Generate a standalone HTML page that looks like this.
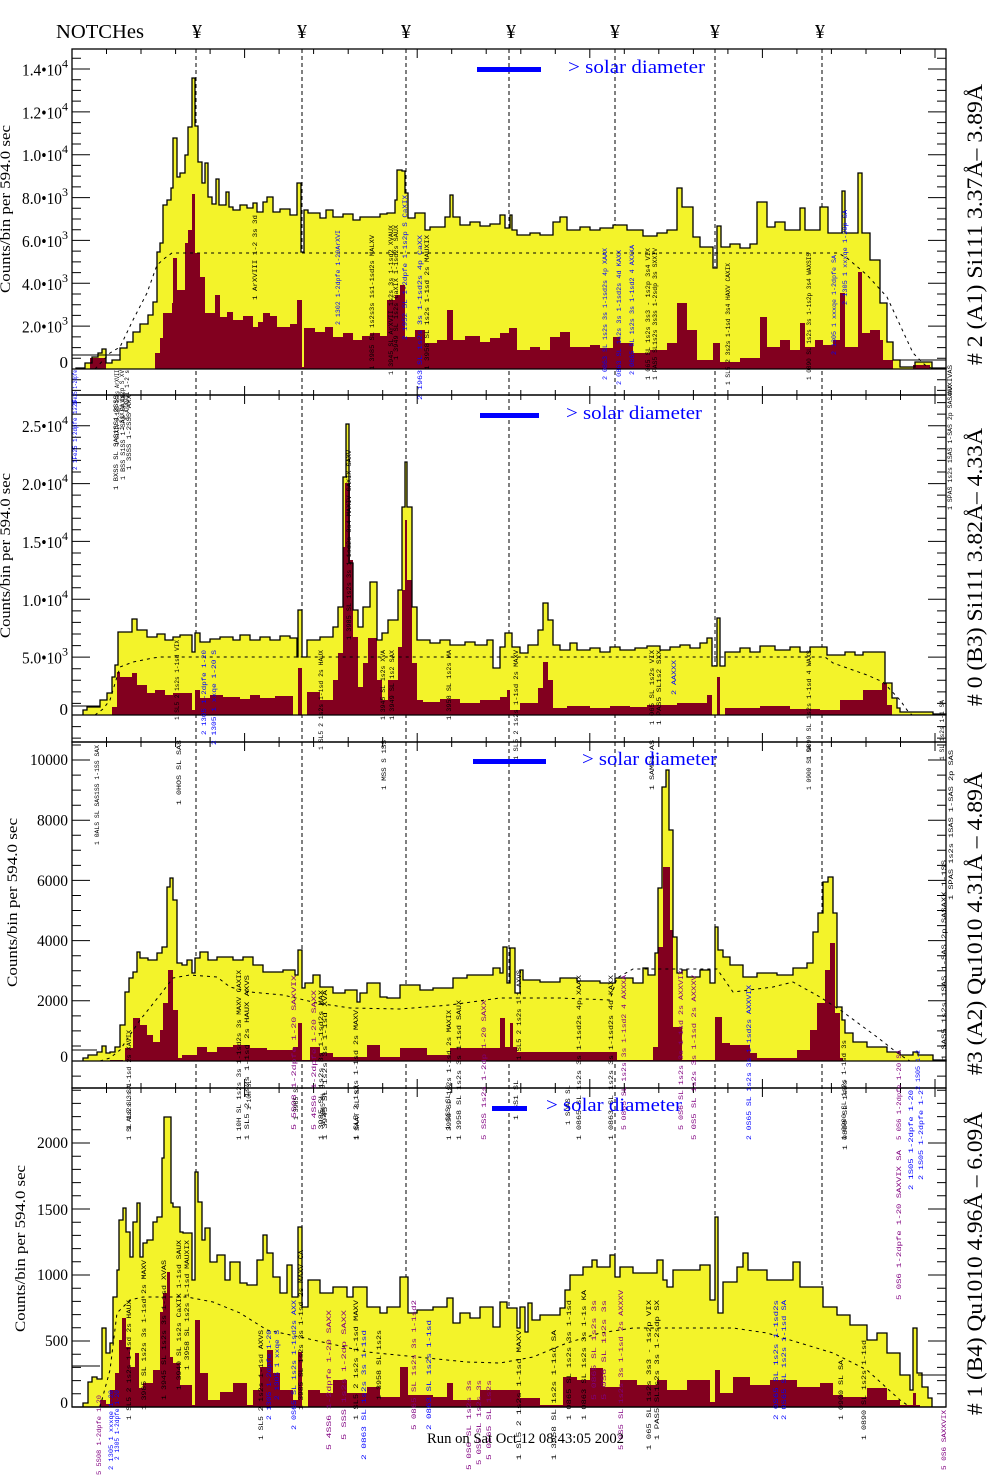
<!DOCTYPE html>
<html><head><meta charset="utf-8"><style>
html,body{margin:0;padding:0;background:#fff}
svg{display:block}
.l{font-family:"Liberation Mono",monospace;font-size:6px}
.k{fill:#000}.b{fill:#0000ff}.p{fill:#800080}
.sv{font-family:"Liberation Serif",serif}
</style></head><body>
<svg width="1004" height="1476" viewBox="0 0 1004 1476" xmlns="http://www.w3.org/2000/svg">
<rect width="1004" height="1476" fill="#fff"/>
<defs>
<path id="h1" d="M72,369 H76 V368 H85 V363 H92 V357 H98 V353 H102 V349 H106 V363 H112 V360 H120 V348 H127 V342 H133 V332 H140 V324 H148 V315 H153 V302 H157 V252 H160 V243 H163 V205 H167 V200 H171 V188 H173 V138 H177 V177 H180 V173 H185 V155 H188 V127 H192 V78 H195 V126 H198 V162 H202 V183 H205 V163 H208 V197 H212 V204 H216 V179 H219 V205 H226 V192 H229 V207 H233 V210 H240 V205 H247 V208 H253 V203 H257 V212 H263 V202 H267 V197 H273 V212 H280 V209 H290 V215 H297 V183 H301 V252 H304 V210 H308 V213 H320 V218 H326 V210 H333 V217 H343 V214 H353 V220 H360 V217 H370 V217 H380 V214 H387 V213 H395 V200 H397 V170 H402 V171 H405 V193 H408 V218 H415 V213 H425 V230 H430 V227 H445 V217 H450 V195 H453 V217 H460 V225 H470 V222 H480 V226 H490 V224 H500 V215 H505 V228 H510 V215 H512 V230 H517 V235 H530 V233 H540 V235 H553 V222 H560 V217 H567 V230 H580 V227 H590 V230 H600 V228 H613 V225 H627 V230 H643 V236 H657 V233 H667 V230 H677 V188 H682 V207 H693 V237 H700 V247 H713 V268 H717 V226 H721 V247 H730 V244 H740 V248 H750 V244 H757 V202 H767 V227 H775 V222 H785 V230 H800 V208 H805 V230 H820 V207 H828 V233 H842 V191 H845 V233 H858 V173 H862 V233 H870 V260 H880 V303 H887 V342 H893 V360 H900 V367 H915 V362 H932 V368 H946 V369 Z"/>
<path id="h2" d="M72,715 H83 V710 H87 V707 H100 V700 H107 V693 H112 V677 H115 V665 H118 V632 H132 V619 H137 V630 H147 V637 H157 V634 H165 V640 H173 V637 H180 V635 H192 V652 H195 V633 H200 V642 H210 V639 H220 V637 H233 V640 H240 V635 H250 V640 H260 V637 H270 V640 H280 V636 H290 V638 H297 V657 H298 V610 H302 V657 H307 V640 H320 V637 H333 V627 H338 V607 H343 V477 H346 V424 H349 V563 H353 V610 H358 V627 H363 V607 H370 V582 H377 V640 H382 V633 H388 V620 H398 V590 H402 V507 H405 V462 H407 V507 H412 V607 H417 V640 H430 V643 H440 V640 H450 V645 H465 V642 H475 V645 H487 V640 H493 V668 H500 V647 H505 V633 H512 V647 H520 V653 H528 V645 H538 V630 H543 V603 H548 V620 H553 V645 H560 V650 H570 V643 H577 V650 H590 V648 H600 V652 H610 V647 H620 V650 H635 V648 H647 V646 H660 V650 H670 V647 H680 V645 H690 V648 H700 V643 H707 V638 H712 V666 H717 V618 H720 V666 H725 V652 H740 V648 H750 V652 H760 V646 H775 V650 H790 V647 H800 V652 H810 V647 H820 V647 H827 V655 H845 V652 H855 V655 H863 V652 H885 V683 H892 V698 H897 V708 H900 V712 H933 V714 H946 V715 Z"/>
<path id="h3" d="M72,1061 H83 V1058 H88 V1055 H97 V1052 H102 V1046 H106 V1053 H110 V1052 H115 V1047 H120 V1025 H125 V992 H129 V978 H133 V972 H137 V952 H140 V958 H148 V960 H157 V953 H162 V947 H167 V887 H170 V878 H173 V900 H177 V963 H182 V965 H187 V960 H192 V973 H195 V958 H200 V952 H208 V960 H217 V957 H233 V960 H243 V957 H253 V965 H263 V972 H283 V970 H295 V975 H298 V950 H302 V988 H305 V983 H313 V975 H320 V987 H333 V993 H345 V990 H357 V1002 H360 V993 H367 V983 H380 V997 H387 V998 H400 V985 H420 V990 H433 V988 H453 V978 H467 V975 H493 V968 H500 V973 H503 V947 H507 V983 H510 V948 H515 V993 H520 V970 H523 V980 H540 V982 H560 V978 H577 V981 H600 V983 H615 V978 H633 V983 H643 V968 H648 V975 H655 V953 H658 V888 H662 V787 H666 V770 H669 V830 H673 V937 H677 V973 H682 V970 H687 V977 H700 V970 H710 V983 H715 V927 H718 V950 H723 V957 H730 V965 H743 V977 H757 V973 H777 V975 H793 V968 H807 V963 H813 V932 H818 V913 H823 V882 H828 V877 H833 V913 H837 V1007 H842 V1020 H845 V1033 H853 V1042 H867 V1047 H887 V1052 H900 V1055 H913 V1052 H918 V1055 H933 V1060 H946 V1061 Z"/>
<path id="h4" d="M72,1407 H83 V1403 H88 V1382 H92 V1377 H97 V1379 H102 V1328 H106 V1353 H110 V1343 H113 V1297 H117 V1270 H119 V1220 H123 V1208 H126 V1232 H130 V1257 H133 V1222 H137 V1203 H140 V1257 H143 V1243 H147 V1240 H153 V1222 H157 V1217 H162 V1158 H164 V1117 H171 V1203 H173 V1207 H180 V1232 H183 V1233 H192 V1280 H195 V1172 H198 V1202 H202 V1240 H205 V1228 H210 V1262 H217 V1255 H225 V1280 H230 V1262 H240 V1283 H247 V1285 H257 V1260 H263 V1235 H267 V1253 H273 V1277 H280 V1293 H287 V1265 H292 V1297 H298 V1227 H302 V1307 H308 V1280 H320 V1293 H333 V1287 H347 V1297 H353 V1287 H367 V1307 H380 V1313 H387 V1307 H400 V1277 H408 V1313 H417 V1310 H433 V1307 H447 V1298 H453 V1323 H460 V1313 H470 V1318 H480 V1307 H493 V1327 H500 V1302 H507 V1308 H517 V1328 H520 V1307 H525 V1332 H528 V1303 H532 V1320 H540 V1315 H560 V1308 H565 V1290 H570 V1275 H583 V1267 H592 V1260 H597 V1267 H610 V1255 H615 V1277 H620 V1267 H633 V1273 H657 V1260 H663 V1280 H667 V1287 H673 V1270 H700 V1265 H710 V1300 H715 V1217 H718 V1313 H723 V1282 H737 V1267 H743 V1253 H748 V1270 H767 V1280 H793 V1262 H800 V1287 H823 V1307 H837 V1315 H850 V1325 H867 V1340 H877 V1333 H887 V1353 H900 V1375 H910 V1390 H913 V1328 H917 V1373 H922 V1387 H928 V1398 H932 V1407 H946 Z"/>
<g id="xt" stroke="#000" stroke-width="1"><path d="M72,0v9M106.5,0v5M141,0v5M175.6,0v5M210.1,0v5M244.6,0v9M279.1,0v5M313.6,0v5M348.2,0v5M382.7,0v5M417.2,0v9M451.7,0v5M486.2,0v5M520.8,0v5M555.3,0v5M589.8,0v9M624.3,0v5M658.8,0v5M693.4,0v5M727.9,0v5M762.4,0v9M796.9,0v5M831.4,0v5M866,0v5M900.5,0v5M935,0v9"/></g>
<g id="yt" stroke="#000" stroke-width="1"><path d="M72,390.4h9M72,379.7h9M72,369h18M72,358.3h9M72,347.6h9M72,336.9h9M72,326.1h18M72,315.4h9M72,304.7h9M72,294h9M72,283.3h18M72,272.6h9M72,261.9h9M72,251.1h9M72,240.4h18M72,229.7h9M72,219h9M72,208.3h9M72,197.6h18M72,186.9h9M72,176.1h9M72,165.4h9M72,154.7h18M72,144h9M72,133.3h9M72,122.6h9M72,111.9h18M72,101.1h9M72,90.4h9M72,79.7h9M72,69h18M72,58.3h9
M72,738.1h9M72,726.6h9M72,715h18M72,703.4h9M72,691.9h9M72,680.3h9M72,668.7h9M72,657.1h18M72,645.6h9M72,634h9M72,622.4h9M72,610.9h9M72,599.3h18M72,587.7h9M72,576.1h9M72,564.6h9M72,553h9M72,541.4h18M72,529.8h9M72,518.3h9M72,506.7h9M72,495.1h9M72,483.6h18M72,472h9M72,460.4h9M72,448.8h9M72,437.3h9M72,425.7h18M72,414.1h9M72,402.6h9
M72,1076.1h9M72,1061h18M72,1046h9M72,1030.9h9M72,1015.9h9M72,1000.8h18M72,985.8h9M72,970.7h9M72,955.7h9M72,940.6h18M72,925.6h9M72,910.5h9M72,895.5h9M72,880.4h18M72,865.4h9M72,850.3h9M72,835.3h9M72,820.2h18M72,805.2h9M72,790.1h9M72,775.1h9M72,760h18M72,745h9
M72,1407h18M72,1393.8h9M72,1380.6h9M72,1367.4h9M72,1354.2h9M72,1341h18M72,1327.8h9M72,1314.6h9M72,1301.4h9M72,1288.2h9M72,1275h18M72,1261.8h9M72,1248.6h9M72,1235.4h9M72,1222.2h9M72,1209h18M72,1195.8h9M72,1182.6h9M72,1169.4h9M72,1156.2h9M72,1143h18M72,1129.8h9M72,1116.6h9M72,1103.4h9M72,1090.2h9"/></g>
</defs>

<!-- notch dashed lines (behind fills) -->
<g stroke="#000" stroke-width="1" stroke-dasharray="4,3">
<path d="M196,49V1407M302,49V1407M406,49V1407M509,49V1407M615,49V1407M715,49V1407M822,49V1407"/>
</g>

<!-- panel 1 -->
<use href="#h1" fill="#f3f32a"/>
<path fill="#82001f" d="M90,369 V358 H106 V369 H155 V353 H160 V338 H163 V313 H172 V303 H173 V258 H177 V290 H185 V243 H188 V230 H192 V194 H195 V253 H200 V277 H205 V313 H215 V295 H220 V317 H227 V312 H233 V320 H243 V316 H253 V327 H258 V322 H263 V313 H270 V316 H277 V327 H290 V324 H297 V300 H302 V367 H304 V328 H315 V332 H325 V327 H333 V337 H343 V333 H353 V340 H362 V336 H370 V333 H380 V336 H387 V300 H395 V295 H400 V285 H405 V337 H415 V330 H425 V343 H437 V340 H447 V310 H453 V340 H465 V336 H480 V342 H490 V338 H500 V333 H509 V328 H517 V350 H530 V347 H540 V350 H550 V337 H560 V332 H570 V347 H590 V345 H600 V348 H613 V337 H620 V343 H633 V353 H650 V350 H667 V343 H677 V303 H687 V330 H697 V360 H713 V343 H720 V362 H740 V358 H760 V317 H767 V347 H780 V340 H790 V350 H800 V323 H805 V347 H815 V340 H823 V345 H833 V340 H840 V293 H845 V347 H858 V272 H862 V333 H870 V330 H880 V340 H883 V360 H893 V369 H913 V365 H930 V369 Z"/>
<use href="#h1" fill="none" stroke="#000" stroke-width="1.3"/>

<!-- panel 2 -->
<use href="#h2" fill="#f3f32a"/>
<path fill="#82001f" d="M112,715 V707 H117 V672 H120 V677 H132 V673 H137 V685 H147 V693 H155 V690 H165 V695 H173 V693 H192 V710 H195 V690 H200 V698 H210 V695 H223 V697 H240 V699 H250 V695 H260 V698 H275 V696 H293 V715 H298 V668 H302 V715 H307 V692 H320 V700 H333 V680 H338 V653 H343 V547 H345 V483 H350 V560 H353 V637 H358 V687 H363 V663 H368 V638 H377 V680 H382 V700 H388 V680 H398 V647 H402 V590 H405 V520 H407 V580 H412 V663 H417 V700 H423 V702 H440 V699 H460 V703 H480 V700 H500 V697 H507 V690 H510 V710 H520 V703 H538 V688 H543 V662 H548 V680 H553 V708 H567 V706 H590 V708 H610 V706 H630 V707 H647 V705 H677 V703 H707 V695 H712 V715 H717 V677 H720 V715 H725 V708 H760 V706 H790 V709 H820 V710 H840 V700 H863 V690 H882 V683 H887 V705 H892 V715 Z"/>
<use href="#h2" fill="none" stroke="#000" stroke-width="1.3"/>

<!-- panel 3 -->
<use href="#h3" fill="#f3f32a"/>
<path fill="#82001f" d="M110,1061 V1060 H123 V1061 H125 V1048 H133 V1018 H140 V1025 H147 V1035 H153 V1042 H160 V1030 H163 V1003 H168 V970 H173 V1010 H178 V1058 H182 V1055 H197 V1047 H207 V1052 H217 V1047 H233 V1045 H250 V1048 H267 V1050 H293 V1047 H298 V1023 H302 V1060 H310 V1047 H320 V1053 H333 V1057 H367 V1045 H380 V1057 H400 V1048 H427 V1055 H450 V1048 H500 V1018 H505 V1047 H510 V1023 H513 V1047 H517 V1052 H617 V1060 H653 V1047 H658 V947 H663 V867 H670 V930 H673 V1027 H682 V1060 H715 V1017 H722 V1043 H730 V1045 H750 V1053 H757 V1058 H797 V1050 H810 V1030 H817 V1003 H825 V970 H830 V943 H835 V1013 H840 V1058 H843 V1061 Z"/>
<use href="#h3" fill="none" stroke="#000" stroke-width="1.3"/>

<!-- panel 4 -->
<use href="#h4" fill="#f3f32a"/>
<path fill="#82001f" d="M100,1407 V1400 H106 V1404 H110 V1390 H115 V1373 H119 V1340 H122 V1318 H126 V1347 H130 V1367 H135 V1353 H139 V1388 H143 V1383 H153 V1370 H160 V1312 H163 V1293 H167 V1272 H170 V1357 H173 V1363 H180 V1385 H192 V1405 H195 V1320 H200 V1373 H208 V1400 H220 V1392 H233 V1383 H247 V1405 H253 V1390 H260 V1367 H267 V1350 H273 V1373 H280 V1390 H293 V1400 H298 V1352 H302 V1407 H308 V1390 H320 V1393 H333 V1380 H347 V1393 H367 V1387 H380 V1397 H400 V1367 H408 V1395 H433 V1397 H447 V1383 H453 V1400 H480 V1390 H520 V1398 H540 V1405 H563 V1377 H577 V1380 H590 V1368 H603 V1387 H620 V1380 H637 V1385 H657 V1380 H667 V1390 H687 V1380 H710 V1402 H715 V1370 H720 V1393 H733 V1377 H750 V1385 H770 V1380 H797 V1387 H820 V1383 H833 V1395 H843 V1397 H867 V1388 H887 V1400 H900 V1405 H913 V1393 H916 V1405 H920 V1407 Z"/>
<use href="#h4" fill="none" stroke="#000" stroke-width="1.3"/>

<!-- dashed model curves -->
<g fill="none" stroke="#000" stroke-width="1" stroke-dasharray="3,4">
<polyline points="95,369 110,353 120,347 133,320 147,293 157,265 165,258 172,253 838,253 847,258 867,275 887,297 900,325 913,353 925,365 933,369"/>
<polyline points="95,715 103,709 110,700 120,667 133,662 153,658 160,657 825,657 833,663 867,675 883,682 900,700 907,710 912,715"/>
<polyline points="100,1061 110,1058 120,1050 140,1020 160,995 173,978 190,975 217,977 230,987 250,992 283,995 317,1003 350,1008 400,1009 450,1005 500,998 560,998 610,1000 617,978 633,969 717,969 733,992 773,987 793,982 820,997 843,1012 877,1037 900,1055 910,1061"/>
<polyline points="100,1407 110,1370 117,1313 130,1300 143,1297 187,1297 213,1302 240,1313 267,1330 300,1337 327,1343 367,1352 417,1357 467,1362 500,1363 533,1357 567,1343 600,1333 633,1328 733,1328 767,1333 800,1343 833,1353 867,1370 900,1400 910,1407"/>
</g>

<!-- short horizontal lines -->
<g stroke="#000" stroke-width="1">
<path d="M72,355H120M72,706H100M72,1050H97M72,1366H100M918,1375H946M900,360H946"/>
</g>

<!-- frames -->
<g fill="none" stroke="#000" stroke-width="1.3">
<rect x="72" y="49" width="874" height="346"/>
<rect x="72" y="395" width="874" height="347"/>
<rect x="72" y="742" width="874" height="346"/>
<rect x="72" y="1088" width="874" height="319"/>
</g>

<!-- ticks -->
<use href="#xt" transform="translate(0,49)"/>
<use href="#xt" transform="translate(0,395)"/>
<use href="#xt" transform="translate(0,742)"/>
<use href="#xt" transform="translate(0,1088)"/>
<use href="#xt" transform="translate(0,395) scale(1,-1)"/>
<use href="#xt" transform="translate(0,742) scale(1,-1)"/>
<use href="#xt" transform="translate(0,1088) scale(1,-1)"/>
<use href="#yt"/>
<use href="#yt" transform="translate(1018,0) scale(-1,1)"/>

<!-- tiny line-id labels -->
<g class="l">
<text class="b" transform="translate(77,410) rotate(-90)" textLength="40" lengthAdjust="spacingAndGlyphs">2 1Fe25 1-2dpfe</text>
<text class="k" transform="translate(119,445) rotate(-90)" textLength="75" lengthAdjust="spacingAndGlyphs">1 SiXIV 6.185 1s2s ArXVII</text>
<text class="k" transform="translate(124,430) rotate(-90)" textLength="60" lengthAdjust="spacingAndGlyphs">1 SiXIV 1s2p S XV</text>
<text class="k" transform="translate(129,420) rotate(-90)" textLength="50" lengthAdjust="spacingAndGlyphs">1 ArXVII 1-2 s</text>
<text class="k" transform="translate(257,300) rotate(-90)" textLength="85" lengthAdjust="spacingAndGlyphs">1 ArXVIII 1-2 3s 3d</text>
<text class="b" transform="translate(340,325) rotate(-90)" textLength="95" lengthAdjust="spacingAndGlyphs">2 1302 1-2dpfe 1-20ArXVI</text>
<text class="k" transform="translate(374,370) rotate(-90)" textLength="135" lengthAdjust="spacingAndGlyphs">1 3985 SL 1s2s3s 1s1-1sd2s MALXV</text>
<text class="k" transform="translate(393,375) rotate(-90)" textLength="150" lengthAdjust="spacingAndGlyphs">1 3945 SL ArXVII 1s2s 3s 1-1sd2 XVAUX</text>
<text class="k" transform="translate(398,360) rotate(-90)" textLength="135" lengthAdjust="spacingAndGlyphs">1 3949 SL 1s2s CaXIX 1-1sd2s SAUX</text>
<text class="b" transform="translate(407,340) rotate(-90)" textLength="145" lengthAdjust="spacingAndGlyphs">2 1952 SL 1-2dpfe 1-1s2p S CaXIX</text>
<text class="b" transform="translate(422,400) rotate(-90)" textLength="165" lengthAdjust="spacingAndGlyphs">2 1963 SL 1s2s 3s 1-1sd2s 4p CaXX</text>
<text class="k" transform="translate(429,370) rotate(-90)" textLength="135" lengthAdjust="spacingAndGlyphs">1 3958 SL 1s2s 1-1sd 2s MAUXIX</text>
<text class="b" transform="translate(607,380) rotate(-90)" textLength="132" lengthAdjust="spacingAndGlyphs">2 0863 SL 1s2s 3s 1-1sd2s 4p XAAX</text>
<text class="b" transform="translate(621,385) rotate(-90)" textLength="135" lengthAdjust="spacingAndGlyphs">2 0863 SL 1s2s 3s 1-1sd2s 4d KAXX</text>
<text class="b" transform="translate(634,375) rotate(-90)" textLength="130" lengthAdjust="spacingAndGlyphs">2 0865 SL 1s2s 3s 1-1sd2 4 AXXXA</text>
<text class="k" transform="translate(650,380) rotate(-90)" textLength="132" lengthAdjust="spacingAndGlyphs">1 065 SL 1s2s 3s3 - 1s2p 3s4 VIX</text>
<text class="k" transform="translate(657,380) rotate(-90)" textLength="132" lengthAdjust="spacingAndGlyphs">1 PAS5 SL1s2s 3s3s 1-2sdp 3s SXXIV</text>
<text class="k" transform="translate(730,385) rotate(-90)" textLength="122" lengthAdjust="spacingAndGlyphs">1 SL5 2 3s2s 1-1sd 3s4 HAXV CAXIX</text>
<text class="k" transform="translate(811,380) rotate(-90)" textLength="127" lengthAdjust="spacingAndGlyphs">1 0890 SL 1s2s 3s 1-1s2p 3s4 WAXSIS</text>
<text class="b" transform="translate(836,355) rotate(-90)" textLength="100" lengthAdjust="spacingAndGlyphs">2 1305 1 xxxqe 1-2dpfe SA</text>
<text class="b" transform="translate(847,305) rotate(-90)" textLength="95" lengthAdjust="spacingAndGlyphs">2 1305 1 xxxqe 1-20p SA</text>
<text class="k" transform="translate(952,395) rotate(-90)" textLength="30" lengthAdjust="spacingAndGlyphs">AVXIVAS</text>

<text class="b" transform="translate(77,470) rotate(-90)" textLength="70" lengthAdjust="spacingAndGlyphs">2 1Fe25 1-2dpfe 1-20</text>
<text class="k" transform="translate(118,490) rotate(-90)" textLength="95" lengthAdjust="spacingAndGlyphs">1 BXSS SL SAS1SS1-2SSS</text>
<text class="k" transform="translate(125,480) rotate(-90)" textLength="85" lengthAdjust="spacingAndGlyphs">1 BSS S1SS 1-SAS SAXX</text>
<text class="k" transform="translate(131,470) rotate(-90)" textLength="75" lengthAdjust="spacingAndGlyphs">1 3SSS 1-2SSS AXX</text>
<text class="k" transform="translate(179,720) rotate(-90)" textLength="80" lengthAdjust="spacingAndGlyphs">1 SL5 2 1s2s 1-1sd VIX</text>
<text class="b" transform="translate(206,735) rotate(-90)" textLength="85" lengthAdjust="spacingAndGlyphs">2 1305 1-2dpfe 1-20</text>
<text class="b" transform="translate(216,745) rotate(-90)" textLength="95" lengthAdjust="spacingAndGlyphs">2 1305 1 xxqe 1-20 S</text>
<text class="k" transform="translate(323,750) rotate(-90)" textLength="100" lengthAdjust="spacingAndGlyphs">1 SL5 2 1s2s 1-1sd 2s HAUX</text>
<text class="k" transform="translate(351,640) rotate(-90)" textLength="190" lengthAdjust="spacingAndGlyphs">1 3985 SL 1s2s 3s 1-1sd2s 3s4 MAXIV CAXIX SAXV</text>
<text class="k" transform="translate(385,720) rotate(-90)" textLength="70" lengthAdjust="spacingAndGlyphs">1 3945 SL 1s2s XVA</text>
<text class="k" transform="translate(394,720) rotate(-90)" textLength="70" lengthAdjust="spacingAndGlyphs">1 3949 SL 1s2 SAX</text>
<text class="k" transform="translate(451,720) rotate(-90)" textLength="70" lengthAdjust="spacingAndGlyphs">1 3958 SL 1s2s MA</text>
<text class="k" transform="translate(518,760) rotate(-90)" textLength="110" lengthAdjust="spacingAndGlyphs">1 SL5 2 1s2s 1-1sd 2s MAXV</text>
<text class="k" transform="translate(654,725) rotate(-90)" textLength="75" lengthAdjust="spacingAndGlyphs">1 065 SL 1s2s VIX</text>
<text class="k" transform="translate(661,725) rotate(-90)" textLength="75" lengthAdjust="spacingAndGlyphs">1 PAS5 SL1s2 SXX</text>
<text class="b" transform="translate(676,695) rotate(-90)" textLength="35" lengthAdjust="spacingAndGlyphs">2 AAXXX</text>
<text class="k" transform="translate(811,760) rotate(-90)" textLength="110" lengthAdjust="spacingAndGlyphs">1 0890 SL 1s2s 1-1sd 4 WAXS</text>
<text class="k" transform="translate(944,760) rotate(-90)" textLength="60" lengthAdjust="spacingAndGlyphs">1 SL 1s2s 1-1 SA</text>
<text class="k" transform="translate(952,510) rotate(-90)" textLength="125" lengthAdjust="spacingAndGlyphs">1 SPAS 1s2s 1SAS 1-SAS 2p SASAXX</text>

<text class="k" transform="translate(99,845) rotate(-90)" textLength="100" lengthAdjust="spacingAndGlyphs">1 0ALS SL SAS1SS 1-1SS SAX</text>
<text class="k" transform="translate(131,1140) rotate(-90)" textLength="110" lengthAdjust="spacingAndGlyphs">1 SL 1s2s 3s 1-1sd 2s XAVIX</text>
<text class="k" transform="translate(181,805) rotate(-90)" textLength="65" lengthAdjust="spacingAndGlyphs">1 0HOS SL SA8</text>
<text class="k" transform="translate(241,1140) rotate(-90)" textLength="170" lengthAdjust="spacingAndGlyphs">1 10H SL 1s2s 3s 1-1sd2s 3s MAXV CAXIX</text>
<text class="k" transform="translate(249,1140) rotate(-90)" textLength="165" lengthAdjust="spacingAndGlyphs">1 SL5 2 1s2s 1-1sd 2s HAUX AXVS</text>
<text class="p" transform="translate(296,1130) rotate(-90)" textLength="155" lengthAdjust="spacingAndGlyphs">5 5S08 1-2dpfe 1-20 SAXVIX</text>
<text class="p" transform="translate(316,1130) rotate(-90)" textLength="140" lengthAdjust="spacingAndGlyphs">5 4SS6 1-2dpfe 1-20 SAXX</text>
<text class="k" transform="translate(323,1140) rotate(-90)" textLength="150" lengthAdjust="spacingAndGlyphs">1 3985 SL 1s2s 3s 1-1sd2s MAX</text>
<text class="k" transform="translate(327,1140) rotate(-90)" textLength="150" lengthAdjust="spacingAndGlyphs">1 3945 SL 1s2s 3s 1-1sd XVA</text>
<text class="k" transform="translate(358,1140) rotate(-90)" textLength="130" lengthAdjust="spacingAndGlyphs">1 SL5 2 1s2s 1-1sd 2s MAXV</text>
<text class="k" transform="translate(386,790) rotate(-90)" textLength="50" lengthAdjust="spacingAndGlyphs">1 MSS S 1SS</text>
<text class="k" transform="translate(451,1140) rotate(-90)" textLength="130" lengthAdjust="spacingAndGlyphs">1 3958 SL 1s2s 1-1sd 2s MAXIX</text>
<text class="k" transform="translate(461,1140) rotate(-90)" textLength="140" lengthAdjust="spacingAndGlyphs">1 3958 SL 1s2s 3s 1-1sd SAUX</text>
<text class="p" transform="translate(486,1140) rotate(-90)" textLength="140" lengthAdjust="spacingAndGlyphs">5 SSS 1s2s 1-2dp 1-20 SAXX</text>
<text class="k" transform="translate(521,1060) rotate(-90)" textLength="90" lengthAdjust="spacingAndGlyphs">1 SL5 2 1s2s 1-1 AXVS</text>
<text class="k" transform="translate(581,1140) rotate(-90)" textLength="165" lengthAdjust="spacingAndGlyphs">1 0865 SL 1s2s 3s 1-1sd2s 4p XAAX</text>
<text class="k" transform="translate(613,1140) rotate(-90)" textLength="165" lengthAdjust="spacingAndGlyphs">1 0863 SL 1s2s 3s 1-1sd2s 4d KAXX</text>
<text class="p" transform="translate(626,1130) rotate(-90)" textLength="155" lengthAdjust="spacingAndGlyphs">5 0865 SL 1s2s 3s 1-1sd2 4 AXXXA</text>
<text class="k" transform="translate(654,790) rotate(-90)" textLength="50" lengthAdjust="spacingAndGlyphs">1 SAMS1 AS</text>
<text class="p" transform="translate(683,1130) rotate(-90)" textLength="160" lengthAdjust="spacingAndGlyphs">5 0S6 SL 1s2s 3s 1-1sd 2s AXXVIX</text>
<text class="p" transform="translate(696,1140) rotate(-90)" textLength="165" lengthAdjust="spacingAndGlyphs">5 0S5 SL 1s2s 3s 1-1sd 2s AXXXV</text>
<text class="b" transform="translate(751,1140) rotate(-90)" textLength="155" lengthAdjust="spacingAndGlyphs">2 0S65 SL 1s2s 3s 1-1sd2s AXXVIX</text>
<text class="k" transform="translate(811,790) rotate(-90)" textLength="45" lengthAdjust="spacingAndGlyphs">1 0900 SL SA</text>
<text class="k" transform="translate(846,1140) rotate(-90)" textLength="100" lengthAdjust="spacingAndGlyphs">1 0900 SL 1s2s 1-1sd 3s</text>
<text class="p" transform="translate(901,1140) rotate(-90)" textLength="90" lengthAdjust="spacingAndGlyphs">5 0S6 1-2dpfe 1-20 SA</text>
<text class="b" transform="translate(920,1090) rotate(-90)" textLength="40" lengthAdjust="spacingAndGlyphs">2 1S05 1-2</text>
<text class="k" transform="translate(946,1060) rotate(-90)" textLength="200" lengthAdjust="spacingAndGlyphs">1 SAS5 1s2s 1SAS 1-SAS 2p SASAXX 1-1SS</text>
<text class="k" transform="translate(953,900) rotate(-90)" textLength="150" lengthAdjust="spacingAndGlyphs">1 SPAS 1s2s 1SAS 1-SAS 2p SAS</text>

<text class="p" transform="translate(101,1475) rotate(-90)" textLength="80" lengthAdjust="spacingAndGlyphs">5 5S08 1-2dpfe 1-20</text>
<text class="b" transform="translate(113,1470) rotate(-90)" textLength="80" lengthAdjust="spacingAndGlyphs">2 1305 1 xxxqe 1-20</text>
<text class="b" transform="translate(119,1460) rotate(-90)" textLength="70" lengthAdjust="spacingAndGlyphs">2 1305 1-2dpfe 1-20</text>
<text class="k" transform="translate(131,1420) rotate(-90)" textLength="120" lengthAdjust="spacingAndGlyphs">1 SL5 2 1s2s 1-1sd 2s HAUX</text>
<text class="k" transform="translate(146,1410) rotate(-90)" textLength="150" lengthAdjust="spacingAndGlyphs">1 3985 SL 1s2s 3s 1-1sd 2s MAXV</text>
<text class="k" transform="translate(166,1400) rotate(-90)" textLength="140" lengthAdjust="spacingAndGlyphs">1 3945 SL 1s2s 3s 1-1sd XVAS</text>
<text class="k" transform="translate(181,1390) rotate(-90)" textLength="150" lengthAdjust="spacingAndGlyphs">1 3949 SL 1s2s CaXIX 1-1sd SAUX</text>
<text class="k" transform="translate(189,1370) rotate(-90)" textLength="130" lengthAdjust="spacingAndGlyphs">1 3958 SL 1s2s 1-1sd MAUXIX</text>
<text class="k" transform="translate(263,1440) rotate(-90)" textLength="110" lengthAdjust="spacingAndGlyphs">1 SL5 2 1s2s 1-1sd AXVS</text>
<text class="b" transform="translate(271,1420) rotate(-90)" textLength="90" lengthAdjust="spacingAndGlyphs">2 1305 1-2dpfe 1-20</text>
<text class="b" transform="translate(279,1400) rotate(-90)" textLength="70" lengthAdjust="spacingAndGlyphs">2 1305 1 xxqe S</text>
<text class="b" transform="translate(296,1430) rotate(-90)" textLength="130" lengthAdjust="spacingAndGlyphs">2 0S65 SL 1s2s 1-1sd2s AXX</text>
<text class="k" transform="translate(303,1410) rotate(-90)" textLength="160" lengthAdjust="spacingAndGlyphs">1 3985 SL 1s2s 3s 1-1sd 2s MAXV CA</text>
<text class="p" transform="translate(331,1450) rotate(-90)" textLength="140" lengthAdjust="spacingAndGlyphs">5 4SS6 1-2dpfe 1-20 SAXX</text>
<text class="p" transform="translate(346,1440) rotate(-90)" textLength="130" lengthAdjust="spacingAndGlyphs">5 SSS 1s2s 1-2dp SAXX</text>
<text class="k" transform="translate(358,1420) rotate(-90)" textLength="120" lengthAdjust="spacingAndGlyphs">1 SL5 2 1s2s 1-1sd MAXV</text>
<text class="b" transform="translate(366,1460) rotate(-90)" textLength="130" lengthAdjust="spacingAndGlyphs">2 0863 SL 1s2s 3s 1-1sd</text>
<text class="k" transform="translate(381,1400) rotate(-90)" textLength="70" lengthAdjust="spacingAndGlyphs">1 3958 SL 1s2s</text>
<text class="p" transform="translate(416,1430) rotate(-90)" textLength="130" lengthAdjust="spacingAndGlyphs">5 0865 SL 1s2s 3s 1-1sd2</text>
<text class="b" transform="translate(431,1430) rotate(-90)" textLength="110" lengthAdjust="spacingAndGlyphs">2 0863 SL 1s2s 1-1sd</text>
<text class="p" transform="translate(471,1470) rotate(-90)" textLength="90" lengthAdjust="spacingAndGlyphs">5 0S6 SL 1s2s 3s</text>
<text class="p" transform="translate(481,1465) rotate(-90)" textLength="85" lengthAdjust="spacingAndGlyphs">5 0S5 SL 1s2s 3s</text>
<text class="p" transform="translate(491,1460) rotate(-90)" textLength="80" lengthAdjust="spacingAndGlyphs">5 0S65 SL 1s2s</text>
<text class="k" transform="translate(521,1460) rotate(-90)" textLength="130" lengthAdjust="spacingAndGlyphs">1 SL5 2 1s2s 1-1sd MAXV</text>
<text class="k" transform="translate(556,1460) rotate(-90)" textLength="130" lengthAdjust="spacingAndGlyphs">1 3958 SL 1s2s 1-1sd SA</text>
<text class="k" transform="translate(571,1420) rotate(-90)" textLength="120" lengthAdjust="spacingAndGlyphs">1 0865 SL 1s2s 3s 1-1sd</text>
<text class="k" transform="translate(586,1420) rotate(-90)" textLength="130" lengthAdjust="spacingAndGlyphs">1 0863 SL 1s2s 3s 1-1s KA</text>
<text class="p" transform="translate(596,1400) rotate(-90)" textLength="100" lengthAdjust="spacingAndGlyphs">5 0865 SL 1s2s 3s</text>
<text class="p" transform="translate(606,1400) rotate(-90)" textLength="100" lengthAdjust="spacingAndGlyphs">5 0S6 SL 1s2s 3s</text>
<text class="p" transform="translate(623,1450) rotate(-90)" textLength="160" lengthAdjust="spacingAndGlyphs">5 0S5 SL 1s2s 3s 1-1sd 2s AXXXV</text>
<text class="k" transform="translate(651,1450) rotate(-90)" textLength="150" lengthAdjust="spacingAndGlyphs">1 065 SL 1s2s 3s3 - 1s2p VIX</text>
<text class="k" transform="translate(659,1440) rotate(-90)" textLength="140" lengthAdjust="spacingAndGlyphs">1 PAS5 SL1s2s 3s 1-2sdp SX</text>
<text class="b" transform="translate(778,1420) rotate(-90)" textLength="120" lengthAdjust="spacingAndGlyphs">2 0S65 SL 1s2s 1-1sd2s</text>
<text class="b" transform="translate(786,1420) rotate(-90)" textLength="120" lengthAdjust="spacingAndGlyphs">2 0S65 SL 1s2s 1-1sd SA</text>
<text class="k" transform="translate(843,1420) rotate(-90)" textLength="60" lengthAdjust="spacingAndGlyphs">1 0900 SL SA</text>
<text class="k" transform="translate(866,1440) rotate(-90)" textLength="100" lengthAdjust="spacingAndGlyphs">1 0890 SL 1s2s 1-1sd</text>
<text class="p" transform="translate(901,1300) rotate(-90)" textLength="150" lengthAdjust="spacingAndGlyphs">5 0S6 1-2dpfe 1-20 SAXVIX SA</text>
<text class="b" transform="translate(913,1190) rotate(-90)" textLength="100" lengthAdjust="spacingAndGlyphs">2 1S05 1-2dpfe 1-20</text>
<text class="b" transform="translate(923,1180) rotate(-90)" textLength="90" lengthAdjust="spacingAndGlyphs">2 1S05 1-2dpfe 1-2</text>
<text class="p" transform="translate(946,1470) rotate(-90)" textLength="60" lengthAdjust="spacingAndGlyphs">5 0S6 SAXXVIX</text>
<text class="k" transform="translate(131,1130) rotate(-90)" textLength="45" lengthAdjust="spacingAndGlyphs">1 ALS SL SA</text>
<text class="k" transform="translate(251,1110) rotate(-90)" textLength="30" lengthAdjust="spacingAndGlyphs">1 10H SL</text>
<text class="k" transform="translate(298,1120) rotate(-90)" textLength="35" lengthAdjust="spacingAndGlyphs">1 3985 SL</text>
<text class="k" transform="translate(325,1125) rotate(-90)" textLength="40" lengthAdjust="spacingAndGlyphs">1 3945 SL S</text>
<text class="k" transform="translate(359,1140) rotate(-90)" textLength="55" lengthAdjust="spacingAndGlyphs">1 SAAT SL SA</text>
<text class="k" transform="translate(450,1130) rotate(-90)" textLength="45" lengthAdjust="spacingAndGlyphs">1 SSS SL S</text>
<text class="k" transform="translate(518,1120) rotate(-90)" textLength="40" lengthAdjust="spacingAndGlyphs">1 SS1 SL</text>
<text class="k" transform="translate(570,1125) rotate(-90)" textLength="40" lengthAdjust="spacingAndGlyphs">1 SOAS SL</text>
<text class="k" transform="translate(847,1150) rotate(-90)" textLength="70" lengthAdjust="spacingAndGlyphs">1 0890 SL 1s2s</text>
</g>

<!-- tick labels -->
<g class="sv" fill="#000" font-size="17">
<text x="68" y="368" text-anchor="end">0</text>
<text x="62" y="332.6" text-anchor="end" textLength="40" lengthAdjust="spacingAndGlyphs">2.0•10</text><text x="62" y="324.6" font-size="12">3</text>
<text x="62" y="289.8" text-anchor="end" textLength="40" lengthAdjust="spacingAndGlyphs">4.0•10</text><text x="62" y="281.8" font-size="12">3</text>
<text x="62" y="246.9" text-anchor="end" textLength="40" lengthAdjust="spacingAndGlyphs">6.0•10</text><text x="62" y="238.9" font-size="12">3</text>
<text x="62" y="204.1" text-anchor="end" textLength="40" lengthAdjust="spacingAndGlyphs">8.0•10</text><text x="62" y="196.1" font-size="12">3</text>
<text x="62" y="161.2" text-anchor="end" textLength="40" lengthAdjust="spacingAndGlyphs">1.0•10</text><text x="62" y="153.2" font-size="12">4</text>
<text x="62" y="118.4" text-anchor="end" textLength="40" lengthAdjust="spacingAndGlyphs">1.2•10</text><text x="62" y="110.4" font-size="12">4</text>
<text x="62" y="75.5" text-anchor="end" textLength="40" lengthAdjust="spacingAndGlyphs">1.4•10</text><text x="62" y="67.5" font-size="12">4</text>

<text x="68" y="715" text-anchor="end">0</text>
<text x="62" y="663.6" text-anchor="end" textLength="40" lengthAdjust="spacingAndGlyphs">5.0•10</text><text x="62" y="655.6" font-size="12">3</text>
<text x="62" y="605.8" text-anchor="end" textLength="40" lengthAdjust="spacingAndGlyphs">1.0•10</text><text x="62" y="597.8" font-size="12">4</text>
<text x="62" y="547.9" text-anchor="end" textLength="40" lengthAdjust="spacingAndGlyphs">1.5•10</text><text x="62" y="539.9" font-size="12">4</text>
<text x="62" y="490.1" text-anchor="end" textLength="40" lengthAdjust="spacingAndGlyphs">2.0•10</text><text x="62" y="482.1" font-size="12">4</text>
<text x="62" y="432.2" text-anchor="end" textLength="40" lengthAdjust="spacingAndGlyphs">2.5•10</text><text x="62" y="424.2" font-size="12">4</text>
</g>
<g class="sv" fill="#000" font-size="15.5" text-anchor="end">
<text x="68" y="1062">0</text>
<text x="68" y="1006" textLength="31" lengthAdjust="spacingAndGlyphs">2000</text>
<text x="68" y="946" textLength="31" lengthAdjust="spacingAndGlyphs">4000</text>
<text x="68" y="886" textLength="31" lengthAdjust="spacingAndGlyphs">6000</text>
<text x="68" y="825.5" textLength="31" lengthAdjust="spacingAndGlyphs">8000</text>
<text x="68" y="765" textLength="38" lengthAdjust="spacingAndGlyphs">10000</text>
<text x="68" y="1408">0</text>
<text x="68" y="1346" textLength="23" lengthAdjust="spacingAndGlyphs">500</text>
<text x="68" y="1280" textLength="31" lengthAdjust="spacingAndGlyphs">1000</text>
<text x="68" y="1215" textLength="31" lengthAdjust="spacingAndGlyphs">1500</text>
<text x="68" y="1148" textLength="31" lengthAdjust="spacingAndGlyphs">2000</text>
</g>

<!-- y axis titles -->
<g class="sv" fill="#000" font-size="15">
<text transform="translate(10,293) rotate(-90)" textLength="168" lengthAdjust="spacingAndGlyphs">Counts/bin per    594.0 sec</text>
<text transform="translate(10,638) rotate(-90)" textLength="165" lengthAdjust="spacingAndGlyphs">Counts/bin per    594.0 sec</text>
<text transform="translate(17,987) rotate(-90)" textLength="169" lengthAdjust="spacingAndGlyphs">Counts/bin per    594.0 sec</text>
<text transform="translate(25,1332) rotate(-90)" textLength="167" lengthAdjust="spacingAndGlyphs">Counts/bin per    594.0 sec</text>
</g>

<!-- right side channel labels -->
<g class="sv" fill="#000" font-size="22">
<text transform="translate(982,365) rotate(-90)" textLength="281" lengthAdjust="spacingAndGlyphs"># 2 (A1) Si111  3.37Å– 3.89Å</text>
<text transform="translate(982,706) rotate(-90)" textLength="278" lengthAdjust="spacingAndGlyphs"># 0 (B3) Si111  3.82Å– 4.33Å</text>
<text transform="translate(982,1075) rotate(-90)" textLength="303" lengthAdjust="spacingAndGlyphs">#3 (A2) Qu1010  4.31Å – 4.89Å</text>
<text transform="translate(982,1415) rotate(-90)" textLength="303" lengthAdjust="spacingAndGlyphs"># 1 (B4) Qu1010 4.96Å – 6.09Å</text>
</g>

<!-- header -->
<g class="sv" fill="#000" font-size="20">
<text x="56" y="38" textLength="88" lengthAdjust="spacingAndGlyphs">NOTCHes</text>
<g text-anchor="middle">
<text x="197" y="38">¥</text><text x="302" y="38">¥</text><text x="406" y="38">¥</text><text x="511" y="38">¥</text><text x="615" y="38">¥</text><text x="715" y="38">¥</text><text x="820" y="38">¥</text>
</g>
</g>

<!-- solar diameter markers -->
<g fill="#0000ff">
<rect x="477" y="67" width="64" height="5"/>
<rect x="480" y="413" width="59" height="5"/>
<rect x="473" y="759" width="73" height="5"/>
<rect x="492" y="1106" width="35" height="5"/>
</g>
<g class="sv" fill="#0000ff" font-size="19">
<text x="568" y="73" textLength="137" lengthAdjust="spacingAndGlyphs">&gt; solar diameter</text>
<text x="566" y="419" textLength="136" lengthAdjust="spacingAndGlyphs">&gt; solar diameter</text>
<text x="582" y="765" textLength="135" lengthAdjust="spacingAndGlyphs">&gt; solar diameter</text>
<text x="546" y="1111" textLength="136" lengthAdjust="spacingAndGlyphs">&gt; solar diameter</text>
</g>

<!-- footer -->
<text class="sv" x="427" y="1443" font-size="15" fill="#000" textLength="197" lengthAdjust="spacingAndGlyphs">Run on Sat Oct 12 08:43:05 2002</text>
</svg>
</body></html>
